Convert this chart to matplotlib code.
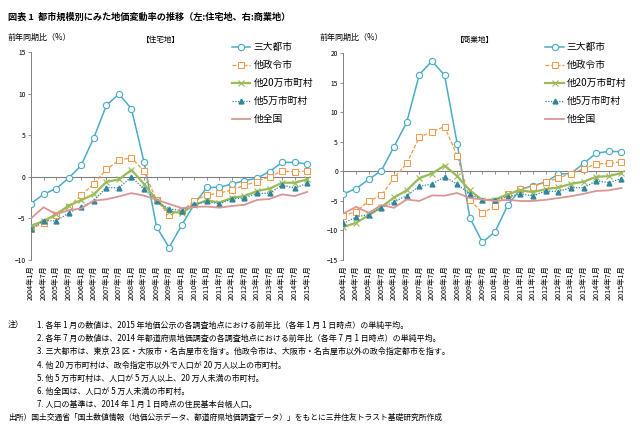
import matplotlib
matplotlib.use("Agg")
import matplotlib.pyplot as plt
import numpy as np

plt.rcParams['font.family'] = ['Noto Sans CJK JP', 'DejaVu Sans']

# 2004年1月 ～ 2015年1月 (半年ごと)
periods = []
for y in range(2004, 2015):
    periods.append(f"{y}年1月")
    periods.append(f"{y}年7月")
periods.append("2015年1月")

series_names = ["三大都市", "他政令市", "他20万市町村", "他5万市町村", "他全国"]

# 住宅地
res_sandai = [-3.2, -2.1, -1.4, -0.15, 1.4, 4.7, 8.6, 10.0, 8.2, 1.8, -6.0, -8.5, -5.8,
              -3.3, -1.27, -1.25, -0.85, -0.45, -0.16, 0.65, 1.75, 1.75, 1.55]
res_seirei = [-6.3, -5.5, -4.6, -3.6, -2.2, -0.85, 0.9, 2.0, 2.3, 0.7, -2.8, -4.6, -4.1,
              -2.88, -2.17, -1.97, -1.55, -1.02, -0.56, 0.02, 0.7, 0.6, 0.72]
res_20man = [-5.9, -5.3, -4.5, -3.45, -2.8, -2.1, -0.6, -0.3, 0.85, -0.85, -2.8, -4.2, -4.3,
             -3.4, -2.8, -3.1, -2.5, -2.3, -1.7, -1.4, -0.7, -0.7, -0.3]
res_5man = [-6.3, -5.25, -5.3, -4.35, -3.6, -2.85, -1.3, -1.3, 0.0, -1.45, -2.9, -3.85, -4.05,
            -3.3, -2.95, -3.25, -2.65, -2.53, -1.97, -1.97, -0.96, -1.36, -0.77]
res_other = [-5.0, -3.65, -4.5, -4.0, -3.8, -2.85, -2.7, -2.35, -1.95, -2.25, -2.75, -3.25, -3.75,
             -3.6, -3.57, -3.7, -3.5, -3.35, -2.77, -2.65, -2.1, -2.3, -1.8]

# 商業地
com_sandai = [-3.8, -2.9, -1.35, 0.15, 4.2, 8.3, 16.4, 18.7, 16.3, 4.7, -7.85, -12.0, -10.2,
              -5.7, -3.0, -2.4, -1.8, -0.45, -0.35, 1.35, 3.1, 3.4, 3.35]
com_seirei = [-7.5, -6.8, -5.0, -4.05, -1.1, 1.35, 5.8, 6.7, 7.6, 2.65, -4.75, -7.1, -5.85,
              -3.9, -3.0, -2.55, -1.8, -1.15, -0.35, 0.45, 1.3, 1.35, 1.65]
com_20man = [-9.4, -8.7, -7.4, -6.05, -4.4, -3.2, -1.15, -0.35, 1.0, -0.8, -3.2, -4.85, -4.75,
             -3.85, -3.2, -3.5, -3.0, -2.7, -2.1, -1.75, -0.9, -0.8, -0.25]
com_5man = [-8.8, -7.7, -7.3, -6.15, -5.15, -4.1, -2.5, -2.15, -0.9, -2.15, -3.85, -4.85, -4.8,
            -4.3, -3.85, -4.1, -3.3, -3.4, -2.75, -2.75, -1.6, -1.9, -1.2]
com_other = [-7.1, -6.0, -7.0, -5.7, -6.15, -4.75, -5.0, -4.05, -4.1, -3.65, -4.5, -4.75, -5.0,
             -4.8, -5.0, -5.0, -4.8, -4.5, -4.2, -3.8, -3.3, -3.2, -2.8]

styles = [
    dict(color="#4bacc6", lw=1.1, ls="-", marker="o", ms=4.5, mfc="white", mec="#4bacc6", mew=0.8),
    dict(color="#f79646", lw=0.9, ls=(0, (3, 1.5)), marker="s", ms=4.2, mfc="white", mec="#f79646", mew=0.7),
    dict(color="#9bbb59", lw=1.6, ls="-", marker="x", ms=3.8, mec="#9bbb59", mew=0.8),
    dict(color="#31859c", lw=0.9, ls=(0, (1, 1.2)), marker="^", ms=3.5, mfc="#31859c", mec="#31859c"),
    dict(color="#d99694", lw=1.3, ls="-", marker=None),
]

fig = plt.figure(figsize=(6.4, 4.45), dpi=100)
fig.text(0.012, 0.962, "図表 1  都市規模別にみた地価変動率の推移（左:住宅地、右:商業地）",
         fontsize=6.6, fontweight="bold", va="center", ha="left")


def draw_panel(rect, data, ylim, ystep, panel_title, title_x, legend_x):
    ax = fig.add_axes(rect)
    x = np.arange(len(periods))
    lines = []
    for vals, name, st in zip(data, series_names, styles):
        ln, = ax.plot(x, vals, label=name, **st)
        lines.append(ln)
    ax.set_xlim(0, len(periods) - 0.8)
    ax.set_ylim(*ylim)
    ax.set_yticks(np.arange(ylim[0], ylim[1] + 1, ystep))
    ax.tick_params(axis="y", labelsize=4.8, length=2, width=0.6, color="#808080", pad=2)
    ax.set_xticks(x)
    ax.set_xticklabels(periods, rotation=90, fontsize=5.2)
    ax.tick_params(axis="x", length=0, pad=4)
    for s in ["top", "right", "bottom"]:
        ax.spines[s].set_visible(False)
    ax.spines["left"].set_color("#808080")
    ax.spines["left"].set_linewidth(0.7)
    # 0% line with category ticks
    zero_frac = (0 - ylim[0]) / (ylim[1] - ylim[0])
    sec = ax.secondary_xaxis(zero_frac)
    sec.set_xticks(x)
    sec.tick_params(axis="x", direction="out", length=2, width=0.6, color="#808080", labelbottom=False)
    sec.set_xticklabels([])
    sec.spines["bottom"].set_color("#808080")
    sec.spines["bottom"].set_linewidth(0.8)
    for ln in lines:
        ln.set_zorder(3)
    fig.text(rect[0] - 0.037, 0.915, "前年同期比（%）", fontsize=5.8, va="center", ha="left")
    fig.text(title_x, 0.91, panel_title, fontsize=5.5, va="center", ha="left")
    ax.legend(loc="upper left", bbox_to_anchor=(legend_x, 0.905), bbox_transform=fig.transFigure,
              frameon=False, fontsize=7, handlelength=1.9, handletextpad=0.3, labelspacing=0.82,
              borderpad=0, borderaxespad=0)
    return ax


draw_panel([0.0484, 0.4157, 0.4356, 0.4668],
           [res_sandai, res_seirei, res_20man, res_5man, res_other],
           (-10, 15), 5, "【住宅地】", 0.222, 0.3625)
draw_panel([0.5367, 0.4157, 0.4383, 0.4643],
           [com_sandai, com_seirei, com_20man, com_5man, com_other],
           (-15, 20), 5, "【商業地】", 0.712, 0.852)

notes = [
    "1. 各年 1 月の数値は、2015 年地価公示の各調査地点における前年比（各年 1 月 1 日時点）の単純平均。",
    "2. 各年 7 月の数値は、2014 年都道府県地価調査の各調査地点における前年比（各年 7 月 1 日時点）の単純平均。",
    "3. 三大都市は、東京 23 区・大阪市・名古屋市を指す。他政令市は、大阪市・名古屋市以外の政令指定都市を指す。",
    "4. 他 20 万市町村は、政令指定市以外で人口が 20 万人以上の市町村。",
    "5. 他 5 万市町村は、人口が 5 万人以上、20 万人未満の市町村。",
    "6. 他全国は、人口が 5 万人未満の市町村。",
    "7. 人口の基準は、2014 年 1 月 1 日時点の住民基本台帳人口。",
]
y0 = 1 - 325 / 445
dy = 13.3 / 445
fig.text(0.012, y0, "注）", fontsize=5.8, va="center", ha="left")
for i, t in enumerate(notes):
    fig.text(0.058, y0 - i * dy, t, fontsize=5.75, va="center", ha="left")
fig.text(0.012, y0 - len(notes) * dy,
         "出所）国土交通省「国土数値情報（地価公示データ、都道府県地価調査データ）」をもとに三井住友トラスト基礎研究所作成",
         fontsize=5.6, va="center", ha="left")

fig.savefig("out.png", dpi=100)
